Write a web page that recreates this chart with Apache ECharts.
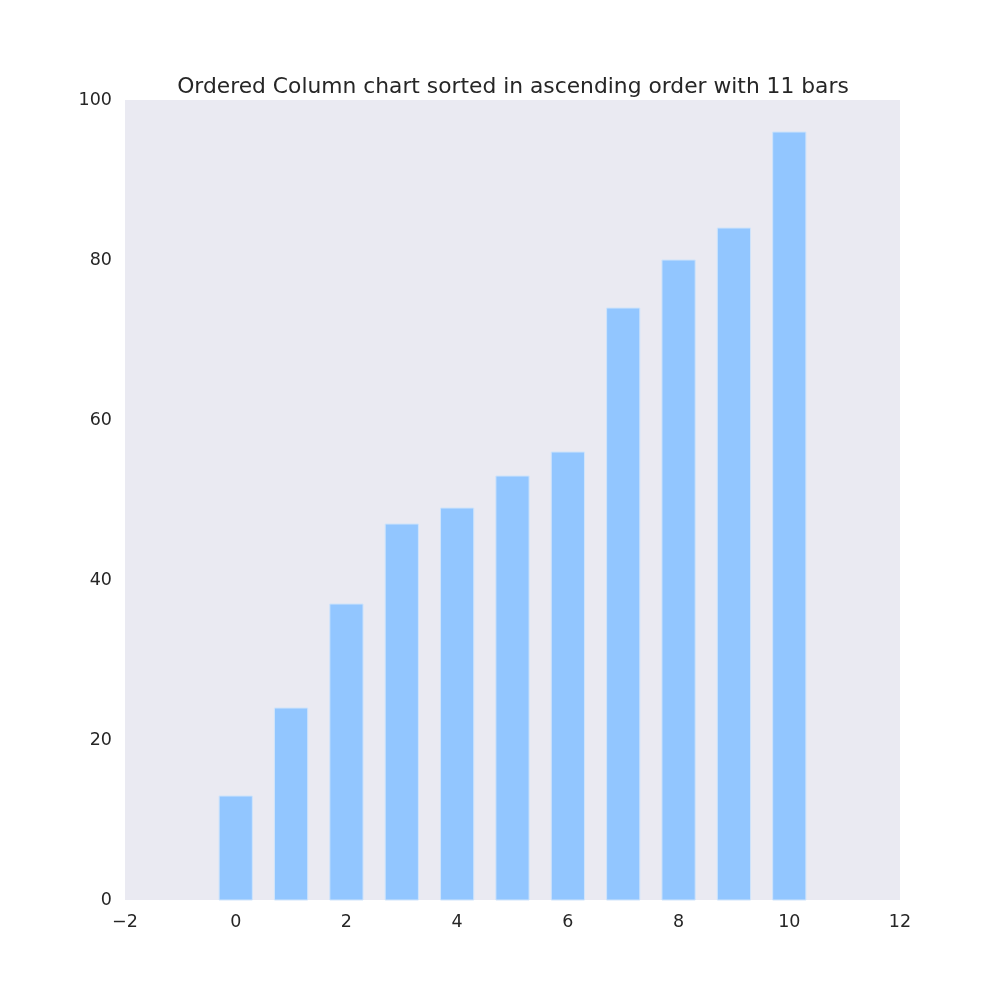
<!DOCTYPE html>
<html>
<head>
<meta charset="utf-8">
<script src="https://cdn.jsdelivr.net/npm/echarts@6/dist/echarts.min.js"></script>
<style>
  html, body { margin: 0; padding: 0; background: #fff; }
  #chart { width: 1000px; height: 1000px; }
</style>
</head>
<body>
<div id="chart"></div>
<script>
// data
const positions = [0, 1, 2, 3, 4, 5, 6, 7, 8, 9, 10];
const values = [13, 24, 37, 47, 49, 53, 56, 74, 80, 84, 96];
const barWidth = 0.6; // in x-axis units

let myChart = echarts.init(document.getElementById("chart"), null, { renderer: "canvas" });

const seriesData = positions.map((p, i) => [p, values[i]]);

// matplotlib-style minus sign
function tickFmt(v) {
  return String(v).replace("-", "\u2212");
}

const option = {
  backgroundColor: "#ffffff",
  animation: false,
  title: {
    text: "Ordered Column chart sorted in ascending order with 11 bars",
    left: 508,
    textAlign: "center",
    top: 71,
    textStyle: { fontFamily: "DejaVu Sans", fontSize: 21.8, fontWeight: "normal", color: "#262626" },
  },
  grid: { left: 125, right: 100, top: 100, bottom: 100, show: true, backgroundColor: "#eaeaf2", borderWidth: 0 },
  xAxis: {
    type: "value",
    min: -2,
    max: 12,
    interval: 2,
    axisLine: { show: false },
    axisTick: { show: false },
    splitLine: { show: false },
    axisLabel: { fontFamily: "DejaVu Sans", fontSize: 17.5, color: "#262626", margin: 13, formatter: tickFmt },
  },
  yAxis: {
    type: "value",
    min: 0,
    max: 100,
    interval: 20,
    axisLine: { show: false },
    axisTick: { show: false },
    splitLine: { show: false },
    axisLabel: { fontFamily: "DejaVu Sans", fontSize: 17.5, color: "#262626", margin: 13, formatter: tickFmt },
  },
  series: [
    {
      type: "custom",
      data: seriesData,
      renderItem: function (params, api) {
        const x = api.value(0);
        const y = api.value(1);
        const p0 = api.coord([x - barWidth / 2, y]);
        const p1 = api.coord([x + barWidth / 2, 0]);
        return {
          type: "rect",
          shape: { x: p0[0], y: p0[1], width: p1[0] - p0[0], height: p1[1] - p0[1] },
          style: { fill: "#92c6ff", stroke: "#cfe4fb", lineWidth: 1 },
        };
      },
    },
  ],
};

myChart.setOption(option);

window.addEventListener("resize", function () {
  if (myChart) {
    myChart.resize();
  }
});
</script>
</body>
</html>
